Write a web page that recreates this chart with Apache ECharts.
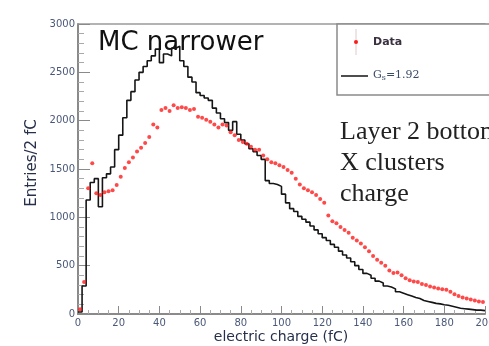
<!DOCTYPE html>
<html>
<head>
<meta charset="utf-8">
<script src="https://cdn.jsdelivr.net/npm/echarts@6/dist/echarts.min.js"></script>
<style>
  html, body { margin: 0; padding: 0; background: #fff; overflow: hidden; }
  #chart { width: 489px; height: 346px; }
</style>
</head>
<body>
<div id="chart"></div>
<script>
// Bin layout: 100 bins of 2 fC from 0 to 200 fC
const binWidth = 2;
const xTicks = [0, 20, 40, 60, 80, 100, 120, 140, 160, 180, 200];
const yTicks = [0, 500, 1000, 1500, 2000, 2500, 3000];

// Simulated charge spectrum (entries per 2 fC bin)
const mcEntries = [
  20, 290, 1180, 1360, 1400, 1110, 1410, 1450, 1520, 1700,
  1850, 2030, 2210, 2300, 2420, 2500, 2560, 2620, 2670, 2740,
  2600, 2690, 2670, 2750, 2770, 2620, 2560, 2450, 2400, 2290,
  2260, 2235, 2210, 2130, 2080, 2020, 1980, 1900, 1990, 1860,
  1800, 1760, 1710, 1680, 1640, 1600, 1380, 1350, 1340, 1320,
  1240, 1150, 1090, 1060, 1010, 980, 950, 910, 870, 830,
  790, 760, 720, 690, 650, 610, 580, 540, 500, 460,
  420, 400, 370, 340, 320, 290, 280, 260, 230, 215,
  200, 185, 170, 160, 140, 130, 120, 110, 105, 95,
  90, 80, 70, 60, 55, 50, 45, 40, 40, 35
];

// Measured charge spectrum (entries per 2 fC bin)
const dataEntries = [
  50, 330, 1300, 1560, 1250, 1230, 1260, 1270, 1280, 1335,
  1420, 1510, 1570, 1620, 1680, 1720, 1770, 1830, 1960, 1930,
  2110, 2130, 2100, 2160, 2130, 2140, 2130, 2110, 2120, 2040,
  2030, 2010, 1990, 1960, 1930, 1960, 1950, 1880, 1850, 1800,
  1780, 1760, 1730, 1700, 1700, 1640, 1600, 1570, 1560, 1540,
  1520, 1490, 1460, 1400, 1340, 1300, 1280, 1260, 1230, 1190,
  1150, 1020, 960, 940, 900, 870, 840, 790, 760, 730,
  690, 650, 600, 560, 530, 500, 450, 425, 430, 400,
  370, 350, 335, 330, 310, 300, 285, 275, 265, 255,
  250, 230, 205, 185, 170, 160, 150, 140, 130, 125
];

// Histogram outline: one point per lower bin edge, plus the final upper edge
const mcStep = mcEntries.map((v, i) => [i * binWidth, v]);
mcStep.push([mcEntries.length * binWidth, mcEntries[mcEntries.length - 1]]);

// Data points at bin centres
const dataPoints = dataEntries.map((v, i) => [i * binWidth + binWidth / 2, v]);

const tickFont = { fontFamily: 'DejaVu Sans', fontSize: 10, color: '#4a5878', formatter: v => String(v) };
const axisGray = '#8a8a8a';

const chart = echarts.init(document.getElementById('chart'), null, { renderer: 'canvas' });

chart.setOption({
  animation: false,
  backgroundColor: '#ffffff',
  grid: { left: 78, right: 4, top: 24, bottom: 32, containLabel: false, outerBoundsMode: 'none' },
  xAxis: [{
    type: 'value',
    min: xTicks[0],
    max: xTicks[xTicks.length - 1],
    interval: xTicks[1] - xTicks[0],
    axisLine: { lineStyle: { color: axisGray, width: 2 } },
    axisTick: { inside: true, length: 8, lineStyle: { color: axisGray } },
    minorTick: { show: true, splitNumber: 4, length: 4, lineStyle: { color: '#aaa' } },
    splitLine: { show: false },
    axisLabel: Object.assign({ margin: 4, hideOverlap: false }, tickFont)
  }, {
    type: 'value',
    position: 'top',
    min: xTicks[0],
    max: xTicks[xTicks.length - 1],
    axisLine: { show: true, lineStyle: { color: '#9a9a9a', width: 1.5 } },
    axisTick: { show: false },
    axisLabel: { show: false },
    splitLine: { show: false }
  }],
  yAxis: {
    type: 'value',
    min: yTicks[0],
    max: yTicks[yTicks.length - 1],
    interval: yTicks[1] - yTicks[0],
    axisLine: { show: true, lineStyle: { color: axisGray, width: 2 } },
    axisTick: { show: true, inside: true, length: 12, lineStyle: { color: axisGray } },
    minorTick: { show: true, splitNumber: 5, length: 6, lineStyle: { color: '#aaa' } },
    splitLine: { show: false },
    axisLabel: Object.assign({ margin: 3 }, tickFont)
  },
  series: [{
    name: 'MC',
    type: 'line',
    step: 'end',
    data: mcStep,
    showSymbol: false,
    lineStyle: { color: '#151515', width: 1.6 },
    z: 2
  }, {
    name: 'Data',
    type: 'scatter',
    data: dataPoints,
    symbol: 'circle',
    symbolSize: 4,
    itemStyle: { color: '#ff1a1a' },
    z: 3
  }],
  graphic: [
    // axis titles
    {
      type: 'text', x: 32, y: 163, rotation: Math.PI / 2,
      style: { text: 'Entries/2 fC', fontFamily: 'DejaVu Sans', fontSize: 15, fill: '#26304a',
               align: 'center', verticalAlign: 'middle' }
    },
    {
      type: 'text', x: 281, y: 337,
      style: { text: 'electric charge (fC)', fontFamily: 'DejaVu Sans', fontSize: 14, fill: '#26304a',
               align: 'center', verticalAlign: 'middle' }
    },
    // headline
    {
      type: 'text', x: 98, y: 43,
      style: { text: 'MC narrower', fontFamily: 'DejaVu Sans', fontSize: 26, fill: '#111',
               align: 'left', verticalAlign: 'middle' }
    },
    // side annotation
    {
      type: 'text', x: 340, y: 132,
      style: { text: 'Layer 2 bottom', fontFamily: 'Liberation Serif', fontSize: 26, fill: '#222',
               align: 'left', verticalAlign: 'middle' }
    },
    {
      type: 'text', x: 340, y: 163,
      style: { text: 'X clusters', fontFamily: 'Liberation Serif', fontSize: 26, fill: '#222',
               align: 'left', verticalAlign: 'middle' }
    },
    {
      type: 'text', x: 340, y: 194,
      style: { text: 'charge', fontFamily: 'Liberation Serif', fontSize: 26, fill: '#222',
               align: 'left', verticalAlign: 'middle' }
    },
    // legend box
    {
      type: 'rect', shape: { x: 337, y: 24, width: 160, height: 71 },
      style: { fill: '#fff', stroke: '#8a8a8a', lineWidth: 1.5 }, z: 10
    },
    {
      type: 'line', shape: { x1: 356, y1: 29, x2: 356, y2: 55 },
      style: { stroke: '#e0c8c8', lineWidth: 1 }, z: 11
    },
    {
      type: 'circle', shape: { cx: 356, cy: 42, r: 2 },
      style: { fill: '#ff1a1a' }, z: 12
    },
    {
      type: 'text', x: 373, y: 42, z: 12,
      style: { text: 'Data', fontFamily: 'DejaVu Sans', fontSize: 11, fontWeight: 'bold', fill: '#3a3040',
               align: 'left', verticalAlign: 'middle' }
    },
    {
      type: 'line', shape: { x1: 341, y1: 76, x2: 368, y2: 76 },
      style: { stroke: '#222', lineWidth: 1.6 }, z: 11
    },
    {
      type: 'text', x: 373, y: 75, z: 12,
      style: {
        text: '{g|G}{s|s}{g|=1.92}',
        align: 'left', verticalAlign: 'middle',
        rich: {
          g: { fontFamily: 'DejaVu Serif', fontSize: 11, fill: '#3a4a66' },
          s: { fontFamily: 'DejaVu Serif', fontSize: 8, fill: '#3a4a66', padding: [6, 0, 0, 0] }
        }
      }
    }
  ]
});
</script>
</body>
</html>
